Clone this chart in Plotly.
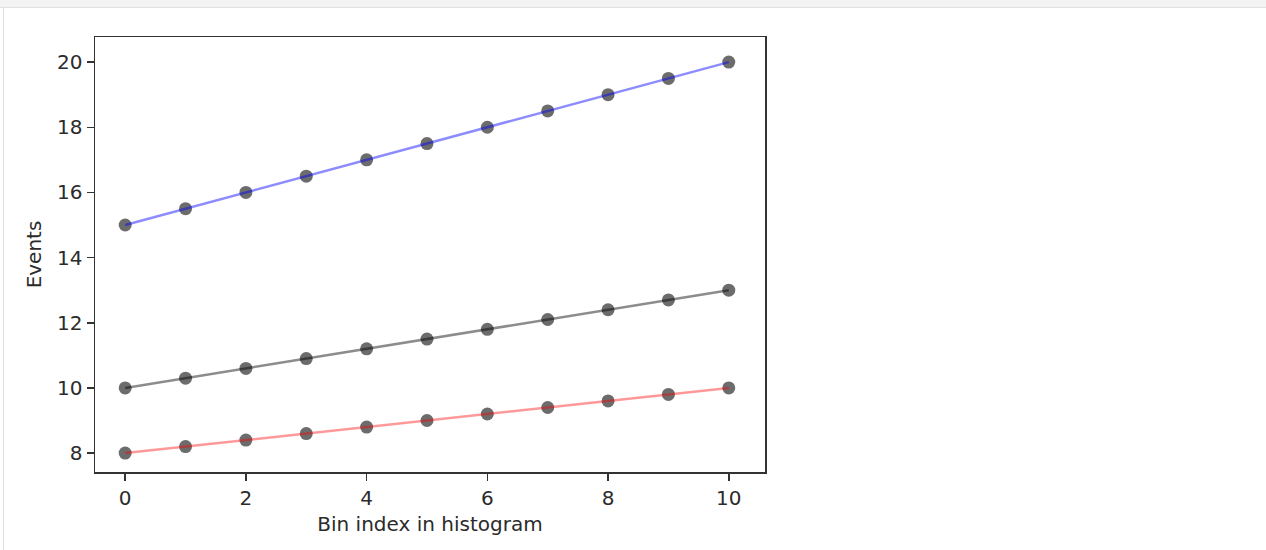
import plotly.graph_objects as go

bins = [0, 1, 2, 3, 4, 5, 6, 7, 8, 9, 10]
blue_vals = [15.0, 15.5, 16.0, 16.5, 17.0, 17.5, 18.0, 18.5, 19.0, 19.5, 20.0]
gray_vals = [10.0, 10.3, 10.6, 10.9, 11.2, 11.5, 11.8, 12.1, 12.4, 12.7, 13.0]
red_vals = [8.0, 8.2, 8.4, 8.6, 8.8, 9.0, 9.2, 9.4, 9.6, 9.8, 10.0]
x_ticks = [0, 2, 4, 6, 8, 10]
y_ticks = [8, 10, 12, 14, 16, 18, 20]

W, H = 1266, 550
L, R, T, B = 95, 765, 37, 472
pw, ph = R - L, B - T

fig = go.Figure()
series = [(blue_vals, "rgba(0,0,255,0.45)"),
          (gray_vals, "rgba(0,0,0,0.45)"),
          (red_vals, "rgba(255,0,0,0.4)")]
for vals, _ in series:
    fig.add_trace(go.Scatter(x=bins, y=vals, mode="markers",
                             marker=dict(size=13, color="rgba(45,45,45,0.7)",
                                         line=dict(width=0)),
                             showlegend=False, hoverinfo="skip"))
for vals, col in series:
    fig.add_trace(go.Scatter(x=bins, y=vals, mode="lines",
                             line=dict(color=col, width=2.5),
                             showlegend=False, hoverinfo="skip"))

def px(x):
    return (x - L) / pw

def py(y):
    return (B - y) / ph

shapes = [
    dict(type="rect", xref="paper", yref="paper", x0=px(0), x1=px(W), y0=py(7), y1=py(0),
         fillcolor="#f3f3f3", line=dict(width=0), layer="below"),
    dict(type="line", xref="paper", yref="paper", x0=px(0), x1=px(W), y0=py(7.5), y1=py(7.5),
         line=dict(color="#e0e0e0", width=1)),
    dict(type="line", xref="paper", yref="paper", x0=px(3.5), x1=px(3.5), y0=py(8), y1=py(H),
         line=dict(color="#e0e0e0", width=1)),
]

font = dict(family="DejaVu Sans", size=20, color="#2b2b2b")
axis_common = dict(showgrid=False, zeroline=False, showline=True, mirror=True,
                   linecolor="#333333", linewidth=1.5, ticks="outside", ticklen=7,
                   tickwidth=1.5, tickcolor="#333333", tickfont=font)

fig.update_layout(
    width=W, height=H,
    margin=dict(l=L, r=W - R, t=T, b=H - B, pad=0),
    paper_bgcolor="white", plot_bgcolor="white",
    shapes=shapes,
    xaxis=dict(range=[-0.5, 10.6], tickvals=x_ticks,
               title=dict(text="Bin index in histogram", standoff=8, font=font),
               **axis_common),
    yaxis=dict(range=[7.42, 20.77], tickvals=y_ticks,
               title=dict(text="Events", standoff=10, font=font),
               **axis_common),
)

fig.write_html("out.html", config={"displayModeBar": False, "staticPlot": True},
               post_script="document.body.style.margin='0';document.body.style.overflow='hidden';")
